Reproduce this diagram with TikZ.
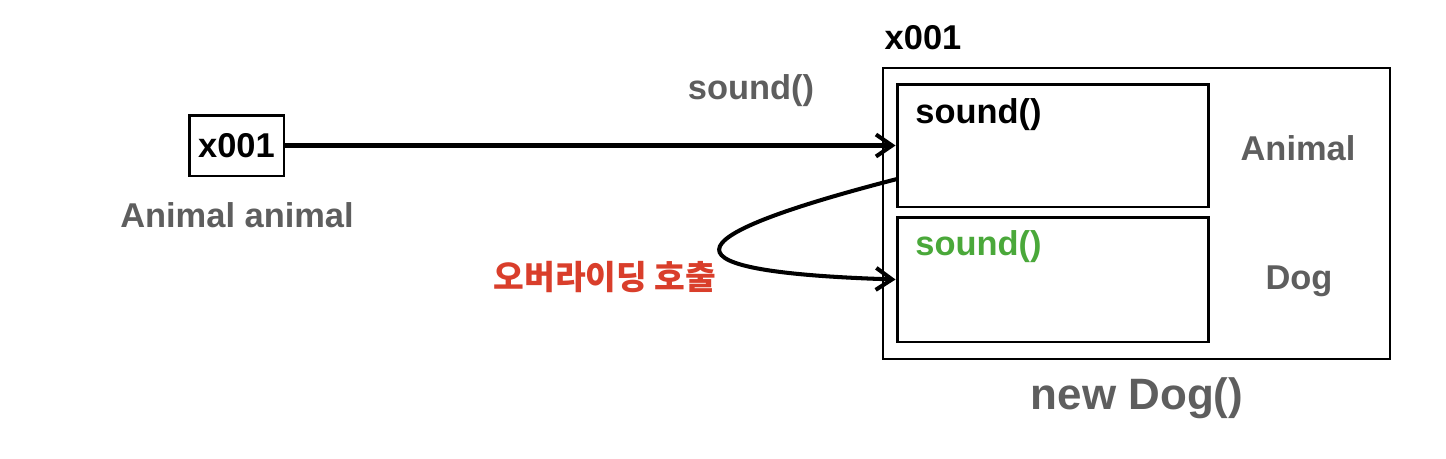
\documentclass[tikz,border=0pt]{standalone}
\usepackage{fontspec}
\setmainfont{Liberation Sans}
\newfontfamily\krfont{Noto Sans CJK KR}
\usetikzlibrary{arrows.meta}
\definecolor{labelgray}{HTML}{5E5E5E}
\definecolor{callred}{HTML}{D93E2B}
\definecolor{subgreen}{HTML}{4AA83A}
\tikzset{
    box/.style={draw, line width=1.7pt, inner sep=0pt},
    ref/.style={->, line width=2.3pt},
    lbl/.style={font=\fontsize{19.6}{23}\selectfont\bfseries, inner sep=0pt},
    graylbl/.style={lbl, text=labelgray},
}
\begin{document}
\begin{tikzpicture}[x=0.02cm, y=-0.02cm, >={Straight Barb[length=0.32cm, width=0.44cm]}]
    \useasboundingbox (0,0) rectangle (1446,458);
    % variable
    \node [box, minimum width=1.9cm, minimum height=1.22cm] (var) at (236.5,145.5) {};
    \node [lbl] (varval) at (var.center) {x001};
    \node [graylbl] (varname) at (237,215) {Animal animal};
    % instance
    \node [box, line width=1.4pt, minimum width=10.14cm, minimum height=5.82cm] (heap) at (1136.5,213.5) {};
    \node [box, minimum width=6.24cm, minimum height=2.46cm] (animalpart) at (1053,145.5) {};
    \node [box, minimum width=6.24cm, minimum height=2.5cm] (dogpart) at (1053,279.5) {};
    \node [lbl, anchor=west] (animalsound) at (915,115) {sound()};
    \node [lbl, anchor=west, text=subgreen] (dogsound) at (915,247) {sound()};
    \node [graylbl] (animalname) at (1298,148) {Animal};
    \node [graylbl] (dogname) at (1299,281) {Dog};
    \node [lbl] (addr) at (923,38) {x001};
    \node [graylbl, font=\fontsize{25}{29}\selectfont\bfseries] (newdog) at (1137,398) {new Dog()};
    \node [graylbl] (callname) at (751,91) {sound()};
    \node [font=\krfont\fontsize{19}{22}\selectfont\bfseries, text=callred, inner sep=0pt] (override) at (605,277) {오버라이딩 호출};
    % calls
    \coordinate (curvestart) at (897,179);
    \draw [ref] (var.east) -- (animalpart.west);
    \draw [ref] (curvestart) .. controls (661,240) and (661,272) .. (dogpart.west);
\end{tikzpicture}
\end{document}
